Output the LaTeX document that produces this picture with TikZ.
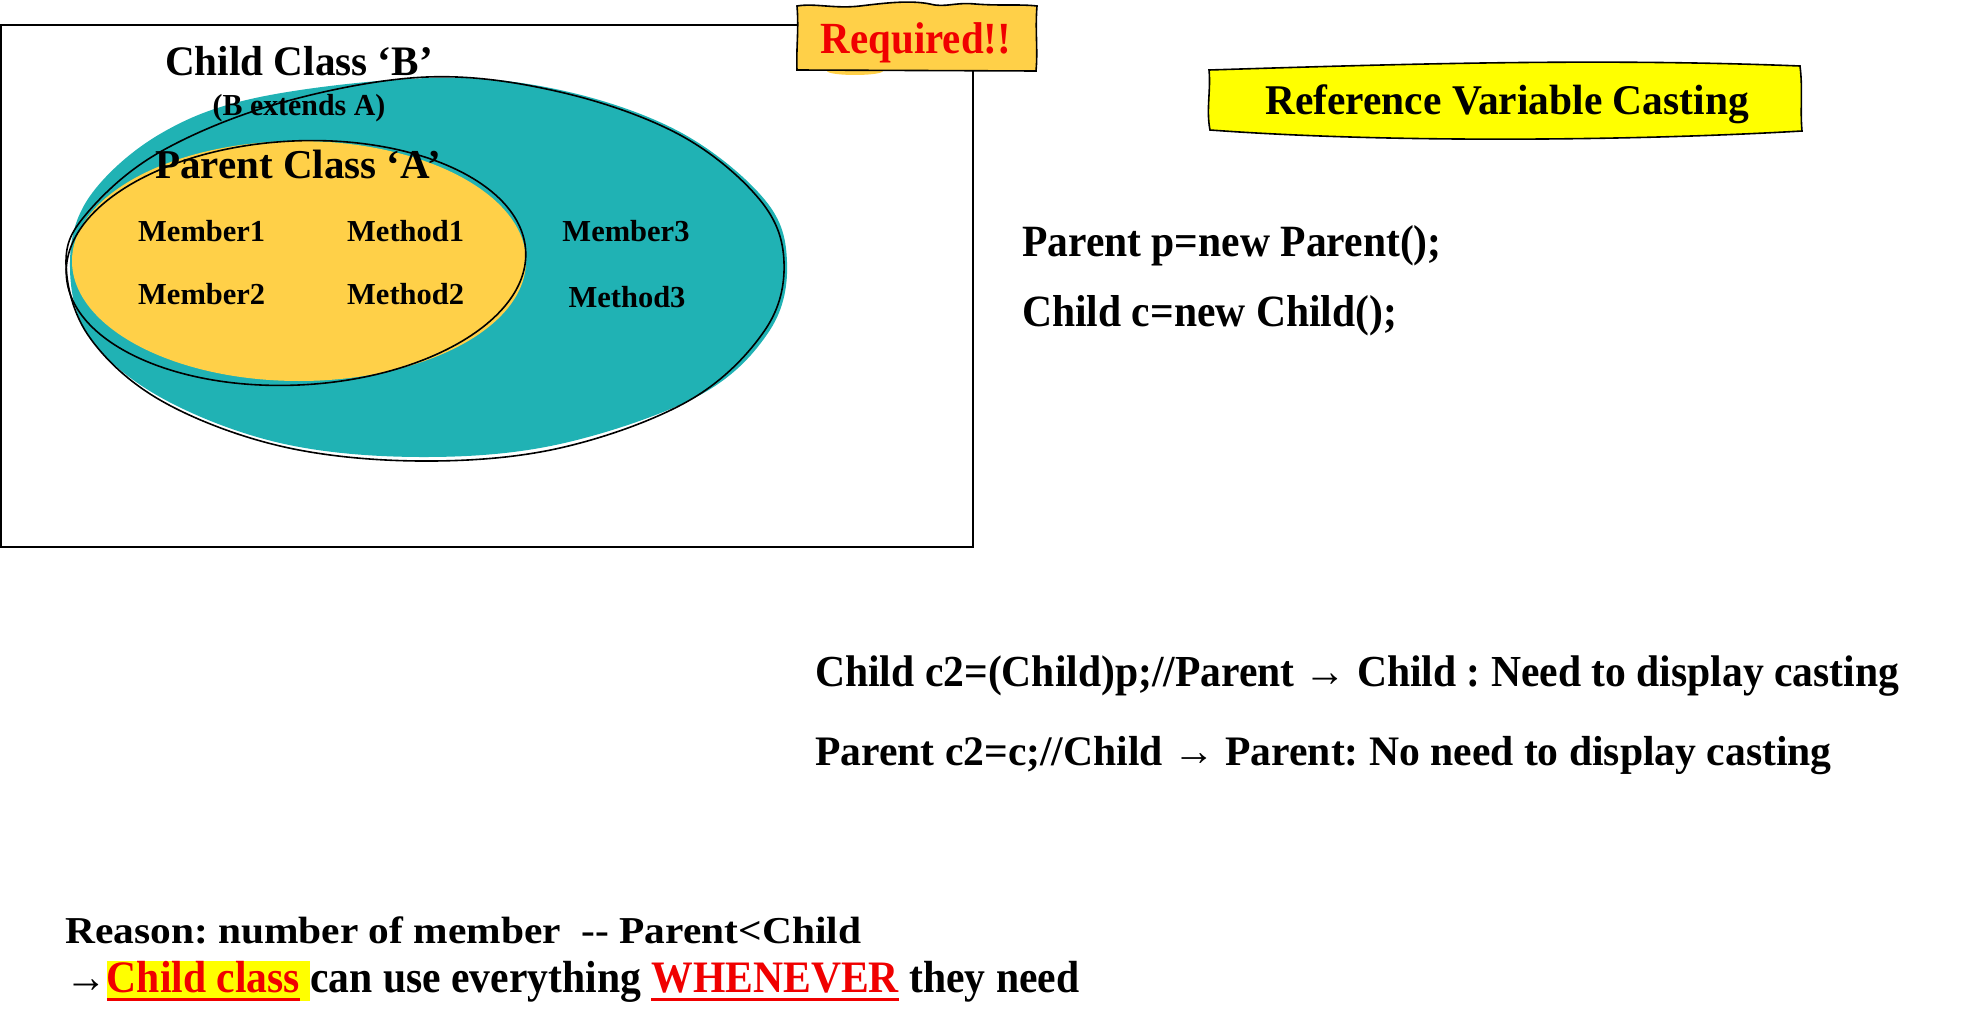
\documentclass[tikz,border=0pt]{standalone}
\usepackage{fontspec}
\setmainfont{Liberation Serif}
\definecolor{tealB}{RGB}{32,178,180}
\definecolor{goldA}{RGB}{255,208,72}
\definecolor{yelB}{RGB}{255,255,0}
\definecolor{redR}{RGB}{240,0,0}
\newcommand{\FS}[2]{\fontsize{#1}{#1}\selectfont\bfseries\addfontfeatures{FakeStretch=#2}}
\newcommand{\myul}[1]{\setbox0\hbox{#1}\rlap{\rule[-9pt]{\wd0}{2.6pt}}\box0}
\frenchspacing
\begin{document}
\begin{tikzpicture}[x=1pt,y=-1pt,
  txt/.style={inner sep=0pt},
  outline/.style={draw=black, line width=1.6pt},
  frame/.style={draw=black, line width=1.8pt}]
\useasboundingbox (0,0) rectangle (1962,1033);
% frame
\draw[frame] (1,25) rectangle (973,547);
% outer ellipse (Child class B)
\fill[tealB] plot[smooth cycle, tension=0.6] coordinates {
  (430,78) (560,90) (680,132) (765,200) (787,262) (770,330) (700,395)
  (560,444) (420,457) (280,443) (160,397) (88,335) (70,262) (90,196)
  (160,134) (260,97)};
\draw[outline] plot[smooth cycle, tension=0.6] coordinates {
  (427,77) (560,92) (680,135) (760,200) (784,262) (765,330) (690,400)
  (560,448) (420,461) (280,446) (160,400) (88,335) (66,262) (88,212)
  (160,152) (280,103)};
% inner ellipse (Parent class A)
\fill[goldA] (299,261) ellipse [x radius=227, y radius=120];
\draw[outline, rotate around={3:(296,263)}] (296,263) ellipse [x radius=230, y radius=122];
% texts in diagram
\node[txt, anchor=base, font=\FS{42}{0.98}] (childB) at (299,75) {Child Class ‘B’};
\node[txt, anchor=base, font=\FS{30.5}{0.98}] (ext) at (299,115) {(B extends A)};
\node[txt, anchor=base, font=\FS{41}{1.0}] (parentA) at (298,178) {Parent Class ‘A’};
\node[txt, anchor=base west, font=\FS{30.5}{1.0}] (m1) at (138,241) {Member1};
\node[txt, anchor=base west, font=\FS{30.5}{1.0}] (f1) at (347,241) {Method1};
\node[txt, anchor=base, font=\FS{30.5}{1.0}] (m3) at (626,241) {Member3};
\node[txt, anchor=base west, font=\FS{30.5}{1.0}] (m2) at (138,304) {Member2};
\node[txt, anchor=base west, font=\FS{30.5}{1.0}] (f2) at (347,304) {Method2};
\node[txt, anchor=base, font=\FS{30.5}{1.0}] (f3) at (627,307) {Method3};
% Required box
\fill[goldA] (855,71) ellipse [x radius=28, y radius=4];
\draw[line width=1.6pt, fill=goldA]
  (797,6) .. controls (815,3) and (835,9) .. (860,6)
  .. controls (885,3) and (910,0) .. (930,4)
  .. controls (945,8) and (955,2) .. (975,4)
  .. controls (1000,6) and (1020,4) .. (1037,6)
  .. controls (1035,30) and (1038,50) .. (1036,71)
  -- (797,70)
  .. controls (796,50) and (799,30) .. (797,6) -- cycle;
\node[txt, anchor=base, text=redR, font=\FS{44.5}{0.92}] (req) at (916,53) {Required!!};
% Reference Variable Casting box
\draw[line width=1.6pt, fill=yelB]
  (1209,70) .. controls (1400,64) and (1600,58) .. (1800,66)
  .. controls (1803,90) and (1800,110) .. (1802,131)
  .. controls (1650,140) and (1400,144) .. (1210,130)
  .. controls (1206,110) and (1211,90) .. (1209,70) -- cycle;
\node[txt, anchor=base, font=\FS{42.3}{0.98}] (rvc) at (1507,114) {Reference Variable Casting};
% code lines
\node[txt, anchor=base west, font=\FS{44.7}{0.93}] (l1) at (1022,256) {Parent p=new Parent();};
\node[txt, anchor=base west, font=\FS{44.7}{0.93}] (l2) at (1022,326) {Child c=new Child();};
\node[txt, anchor=base west, font=\FS{44.3}{0.939}] (l3) at (815,686) {Child c2=(Child)p;//Parent → Child : Need to display casting};
\node[txt, anchor=base west, font=\FS{42}{0.991}] (l4) at (815,765) {Parent c2=c;//Child → Parent: No need to display casting};
% reason
\node[txt, anchor=base west, font=\FS{38}{1.09}] (r1) at (65,943) {Reason: number of member\ \ {-}{-} Parent<Child};
\node[txt, anchor=base west, font=\FS{45}{0.925}] (r2) at (65,992) {→\setlength{\fboxsep}{0pt}\colorbox{yelB}{\rule[-0.2em]{0pt}{0.89em}\textcolor{redR}{\myul{Child class}}\ }can use everything \textcolor{redR}{\myul{WHENEVER}} they need};
\end{tikzpicture}
\end{document}
